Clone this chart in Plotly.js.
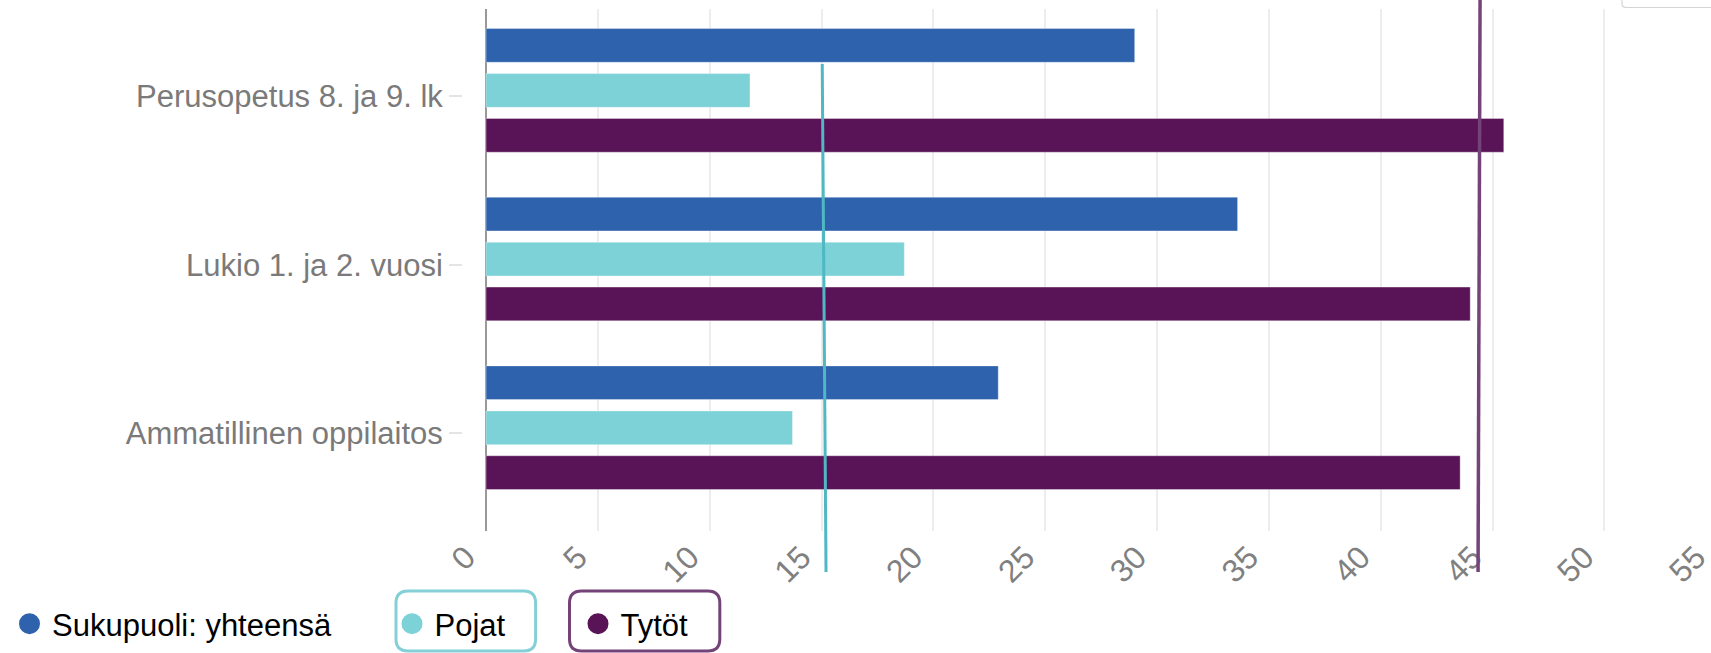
<!DOCTYPE html>
<html>
<head>
<meta charset="utf-8">
<script src="https://cdn.plot.ly/plotly-3.0.1.min.js"></script>
<style>
  html, body { margin: 0; padding: 0; overflow: hidden; background: #ffffff; }
  #chart { width: 1761px; height: 653px; }
</style>
</head>
<body>
<div id="chart"></div>
<script>
// ---- data ----
const categories = ['Perusopetus 8. ja 9. lk', 'Lukio 1. ja 2. vuosi', 'Ammatillinen oppilaitos'];
const seriesNames = ['Sukupuoli: yhteensä', 'Pojat', 'Tytöt'];
const totalValues = [29.0, 33.6, 22.9];   // Sukupuoli: yhteensä
const boysValues  = [11.8, 18.7, 13.7];   // Pojat
const girlsValues = [45.5, 44.0, 43.55];  // Tytöt
// reference lines (value at top end, value at bottom end)
const boysRefLine  = [15.03, 15.20];
const girlsRefLine = [44.44, 44.35];
const xTickStep = 5;

// ---- styles ----
const FONT = 'Liberation Sans, Arial, Helvetica, sans-serif';
const colors = ['#2f62ad', '#7dd2d8', '#581456'];
const lineColors = { boys: '#4fb8c2', girls: '#744377' };
const W = 1761, H = 653;
const ML = 463, MT = 0, MB = 81;
const xMin = -1.03, xMax = 57.0;

const barOffsets = [-0.4, -0.133, 0.133];
const barWidth = 0.2;

const values = [totalValues, boysValues, girlsValues];
const traces = values.map((v, i) => ({
  type: 'bar',
  orientation: 'h',
  name: seriesNames[i],
  x: v,
  y: categories,
  xaxis: 'x', yaxis: 'y',
  offset: barOffsets[i],
  width: barWidth,
  marker: { color: colors[i], line: { color: 'rgba(255,255,255,0.35)', width: 1 } },
  showlegend: false,
  hoverinfo: 'x+name'
}));

// reference lines drawn on an overlay subplot whose y spans the full paper height
traces.push({
  type: 'scatter', mode: 'lines', name: seriesNames[1],
  x: boysRefLine, y: [0.888, 0], xaxis: 'x2', yaxis: 'y2',
  line: { color: lineColors.boys, width: 3 }, showlegend: false, hoverinfo: 'skip'
});
traces.push({
  type: 'scatter', mode: 'lines', name: seriesNames[2],
  x: girlsRefLine, y: [1, 0], xaxis: 'x2', yaxis: 'y2',
  line: { color: lineColors.girls, width: 3.5 }, showlegend: false, hoverinfo: 'skip'
});

// legend entries (round symbols)
['legend', 'legend2', 'legend3'].forEach((lg, i) => {
  traces.push({
    type: 'scatter', mode: 'markers', name: seriesNames[i],
    x: [null], y: [null], xaxis: 'x2', yaxis: 'y2',
    marker: { color: colors[i], size: 16, symbol: 'circle', line: { color: colors[i], width: 5 } },
    legend: lg, showlegend: true, hoverinfo: 'skip'
  });
});

const plotW = W - ML;
const plotH = H - MT - MB;
const px2paperX = p => (p - ML) / plotW;
const py2paperY = p => (H - MB - p) / plotH;

const legendCommon = {
  orientation: 'h', xanchor: 'left', yanchor: 'middle',
  bgcolor: 'rgba(0,0,0,0)', borderwidth: 0, itemwidth: 35,
  font: { family: FONT, size: 31, color: '#000000' },
  itemclick: false, itemdoubleclick: false
};

function roundRect(l, t, r, b, rad) {
  // pixel offsets relative to paper bottom-left, y up
  const L = l - ML, R = r - ML, T = (H - MB) - t, B = (H - MB) - b;
  return `M ${L},${T - rad} Q ${L},${T} ${L + rad},${T} L ${R - rad},${T} Q ${R},${T} ${R},${T - rad} ` +
         `L ${R},${B + rad} Q ${R},${B} ${R - rad},${B} L ${L + rad},${B} Q ${L},${B} ${L},${B + rad} Z`;
}
const pixelShape = (path, color, width) => ({
  type: 'path', xref: 'paper', yref: 'paper', xsizemode: 'pixel', ysizemode: 'pixel',
  xanchor: 0, yanchor: 0, path: path, line: { color: color, width: width }, layer: 'above'
});

const layout = {
  width: W, height: H,
  margin: { l: ML, r: 0, t: MT, b: MB, autoexpand: false },
  paper_bgcolor: '#ffffff',
  plot_bgcolor: 'rgba(0,0,0,0)',
  barmode: 'overlay',
  font: { family: FONT },
  xaxis: {
    range: [xMin, xMax], anchor: 'y', tick0: 0, dtick: xTickStep,
    showgrid: true, gridcolor: '#ededed', gridwidth: 1.5,
    zeroline: true, zerolinecolor: '#999999', zerolinewidth: 2,
    showline: false, ticks: '', tickangle: -45,
    ticklabelshift: -20,
    tickfont: { family: FONT, size: 32, color: '#808080' },
    fixedrange: true
  },
  yaxis: {
    type: 'category', categoryorder: 'array', categoryarray: categories,
    range: [2.579, -0.516], domain: [py2paperY(531), py2paperY(9)], anchor: 'x',
    showgrid: false, zeroline: false, showline: false,
    ticks: 'outside', ticklen: 13, tickwidth: 2, tickcolor: '#e4e4e4',
    tickfont: { family: FONT, size: 31, color: '#7a7a7a' },
    fixedrange: true
  },
  xaxis2: { range: [xMin, xMax], anchor: 'y2', visible: false, fixedrange: true },
  yaxis2: { range: [0, 1], domain: [0, 1], anchor: 'x2', visible: false, fixedrange: true },
  legend:  Object.assign({}, legendCommon, { x: px2paperX(7),     y: py2paperY(624) }),
  legend2: Object.assign({}, legendCommon, { x: px2paperX(389.5), y: py2paperY(624) }),
  legend3: Object.assign({}, legendCommon, { x: px2paperX(575.5), y: py2paperY(624) }),
  shapes: [
    pixelShape(roundRect(396, 591, 535.6, 651, 12), '#84d0d6', 3),
    pixelShape(roundRect(569.5, 591, 719.8, 651, 12), '#744377', 3),
    pixelShape(`M ${1622 - ML},${H - MB + 20} L ${1622 - ML},${H - MB - 3.5} Q ${1622 - ML},${H - MB - 7.5} ${1626 - ML},${H - MB - 7.5} L ${W - ML + 20},${H - MB - 7.5}`, '#d4d4d4', 1.2)
  ],
  hovermode: false
};

Plotly.newPlot('chart', traces, layout, { displayModeBar: false, responsive: false });
</script>
</body>
</html>
